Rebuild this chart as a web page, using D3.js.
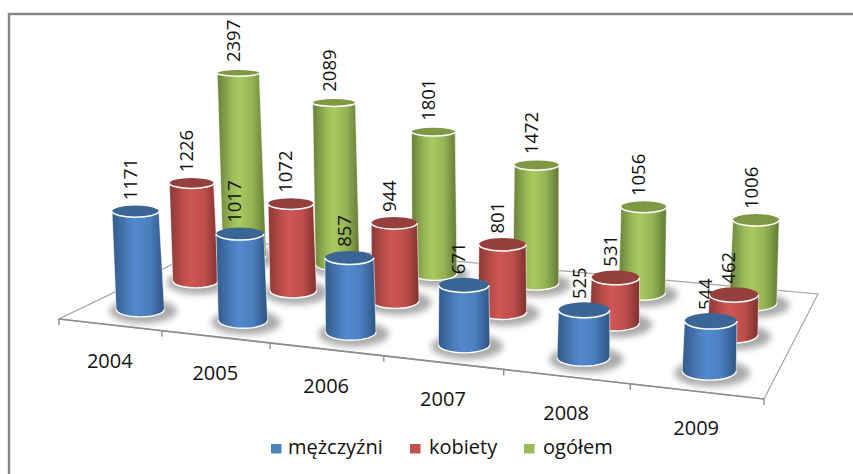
<!DOCTYPE html>
<html><head><meta charset="utf-8">
<script src="https://cdn.jsdelivr.net/npm/d3@7/dist/d3.min.js"></script>
<style>html,body{margin:0;padding:0;background:#fff}svg{display:block}text{fill:#111}</style>
</head><body><svg id="c" width="853" height="474"></svg>
<script>
const years = ["2004","2005","2006","2007","2008","2009"];
const seriesNames = ["mężczyźni","kobiety","ogółem"];
const men = [1171,1017,857,671,525,544];
const women = [1226,1072,944,801,531,462];
const total = [2397,2089,1801,1472,1056,1006];

const W=853,H=474;
const svg=d3.select("#c");
const defs=svg.append("defs");

// floor quad corners in the page (front-left, front-right, back-right, back-left)
const Q=[[59,319],[764,399],[818,294],[223,240]];
function homography(q){
  const [[x0,y0],[x1,y1],[x2,y2],[x3,y3]]=q;
  const dx1=x1-x2,dx2=x3-x2,sx=x0-x1+x2-x3,dy1=y1-y2,dy2=y3-y2,sy=y0-y1+y2-y3;
  const den=dx1*dy2-dx2*dy1;
  const g=(sx*dy2-dx2*sy)/den,h=(dx1*sy-sx*dy1)/den;
  const a=x1-x0+g*x1,b=x3-x0+h*x3,c=x0,d=y1-y0+g*y1,e=y3-y0+h*y3,f=y0;
  return (u,v)=>{const w=g*u+h*v+1;return [(a*u+b*v+c)/w,(d*u+e*v+f)/w];};
}
const floor=homography(Q);
const uScale=d3.scaleBand().domain(years).range([0,1]);
const vScale=d3.scaleBand().domain(seriesNames).range([0,1]);
const kScale=d3.scaleLinear().domain([262,371]).range([0.077,0.092]);   // px per unit by floor depth
const rxScale=d3.scaleLinear().domain([253,371]).range([21.5,27]);
const ryScale=d3.scaleLinear().domain([71,321]).range([3,8]);
const leanScale=d3.scaleLinear().domain([490,491]).range([0,0.00014]);   // sideways drift per px of height

const palette={
  "mężczyźni":{sw:"#4f81bd",top:"#3b6595",stops:["#33598a","#4a7dbb","#5289cf","#4a7ebd","#2f5482"]},
  "kobiety":{sw:"#c0504d",top:"#96403d",stops:["#8a3836","#c04f4c","#cf5654","#bd4e4b","#7c312f"]},
  "ogółem":{sw:"#9bbb59",top:"#7f9844",stops:["#667f37","#9bbb59","#a8ca60","#94b254","#627a35"]}
};
seriesNames.forEach((n,i)=>{
  const g=defs.append("linearGradient").attr("id","g"+i);
  [0,.3,.45,.72,1].forEach((o,j)=>g.append("stop").attr("offset",o).attr("stop-color",palette[n].stops[j]));
});
defs.append("filter").attr("id","blur").attr("x","-30%").attr("y","-60%").attr("width","160%").attr("height","220%")
  .append("feGaussianBlur").attr("stdDeviation",3.2);

const values=[men,women,total];
function geom(si,yi){
  const name=seriesNames[si];
  const u=uScale(years[yi])+uScale.bandwidth()/2, v=vScale(name)+vScale.bandwidth()/2;
  const [xb,yb]=floor(u,v);
  const val=values[si][yi];
  const h=val*kScale(yb);
  const yt=yb-h, xt=xb+leanScale(xb)*h;
  return {si,yi,val,xb,yb,xt,yt,rb:rxScale(yb),rt:rxScale(yb)*0.97,ryb:ryScale(yb),ryt:ryScale(yt)};
}
const all=seriesNames.map((_,si)=>years.map((_,yi)=>geom(si,yi)));

// frame
svg.append("rect").attr("x",9).attr("y",14).attr("width",W+20).attr("height",H+20)
  .attr("fill","#fff").attr("stroke","#868686").attr("stroke-width",2.4);

// floor
svg.append("path").attr("d",d3.line()(Q)+"Z").attr("fill","#fff").attr("stroke","#a6a6a6").attr("stroke-width",1.2);
const front=svg.append("g");
front.append("line").attr("x1",Q[0][0]).attr("y1",Q[0][1]).attr("x2",Q[1][0]).attr("y2",Q[1][1])
  .attr("stroke","#8c8c8c").attr("stroke-width",1.6);
[...years.map(y=>uScale(y)),1].forEach(u=>{
  const [x,y]=floor(u,0);
  front.append("line").attr("x1",x).attr("y1",y).attr("x2",x).attr("y2",y+6).attr("stroke","#8c8c8c").attr("stroke-width",1.4);
});
// category labels
years.forEach(yr=>{
  const [x,y]=floor(uScale(yr)+uScale.bandwidth()/2,0);
  svg.append("text").attr("x",x).attr("y",y+36).attr("text-anchor","middle").attr("dominant-baseline","central")
    .attr("font-family","'Open Sans'").attr("font-size",20).text(yr);
});

function shadow(d){
  svg.append("ellipse").attr("cx",d.xb+3).attr("cy",d.yb+2).attr("rx",d.rb*1.4).attr("ry",d.ryb+4.5)
    .attr("fill","#666").attr("opacity",.55).attr("filter","url(#blur)");
}
function cyl(d){
  const p=palette[seriesNames[d.si]];
  const g=svg.append("g");
  const body=`M${d.xt-d.rt},${d.yt}L${d.xb-d.rb},${d.yb}A${d.rb},${d.ryb} 0 0 0 ${d.xb+d.rb},${d.yb}L${d.xt+d.rt},${d.yt}A${d.rt},${d.ryt} 0 0 1 ${d.xt-d.rt},${d.yt}Z`;
  g.append("path").attr("d",body).attr("fill",`url(#g${d.si})`);
  g.append("ellipse").attr("cx",d.xt).attr("cy",d.yt).attr("rx",d.rt).attr("ry",d.ryt).attr("fill",p.top);
  g.append("path").attr("d",`M${d.xt-d.rt},${d.yt}A${d.rt},${d.ryt} 0 0 0 ${d.xt+d.rt},${d.yt}`)
    .attr("fill","none").attr("stroke","#fff").attr("stroke-width",1.5);
  g.append("path").attr("d",`M${d.xb-d.rb},${d.yb}A${d.rb},${d.ryb} 0 0 0 ${d.xb+d.rb},${d.yb}`)
    .attr("fill","none").attr("stroke","#fff").attr("stroke-width",1.4);
  [-1,1].forEach(s=>g.append("line").attr("x1",d.xt+s*d.rt).attr("y1",d.yt).attr("x2",d.xb+s*d.rb).attr("y2",d.yb)
    .attr("stroke","#fff").attr("stroke-opacity",.7).attr("stroke-width",.8));
}
function label(d){
  svg.append("text").attr("transform",`translate(${d.xt-6},${d.yt-11}) rotate(-90)`)
    .attr("dominant-baseline","central").attr("font-family","'Open Sans'").attr("font-size",18.5).text(d.val);
}
// back to front
all.forEach(r=>r.forEach(shadow));
all[2].forEach(cyl);
all.forEach(r=>r.forEach(label));
all[1].forEach(cyl);
all[0].forEach(cyl);

// legend
const legX=[271,410,524], legT=[288,429,543];
seriesNames.forEach((n,i)=>{
  svg.append("rect").attr("x",legX[i]).attr("y",444).attr("width",10.5).attr("height",9.5).attr("fill",palette[n].sw);
  svg.append("text").attr("x",legT[i]).attr("y",454).attr("font-family","'Open Sans'").attr("font-size",20).text(n);
});
</script></body></html>
